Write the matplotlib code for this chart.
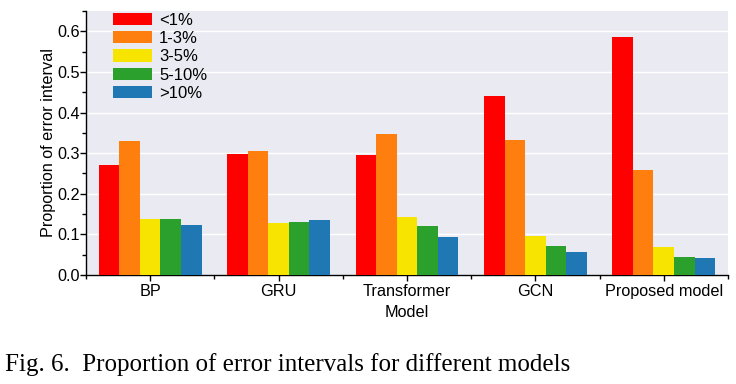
import matplotlib
matplotlib.use("Agg")
import matplotlib.pyplot as plt
import numpy as np
from matplotlib.ticker import MultipleLocator

models = ["BP", "GRU", "Transformer", "GCN", "Proposed model"]
intervals = ["<1%", "1-3%", "3-5%", "5-10%", ">10%"]
lt1 = [0.270, 0.298, 0.295, 0.440, 0.585]
r1_3 = [0.330, 0.306, 0.347, 0.332, 0.258]
r3_5 = [0.139, 0.129, 0.143, 0.096, 0.070]
r5_10 = [0.138, 0.130, 0.120, 0.071, 0.045]
gt10 = [0.123, 0.135, 0.093, 0.057, 0.043]
series = [lt1, r1_3, r3_5, r5_10, gt10]
colors = ["#FF0000", "#FF7F0E", "#F7E400", "#2CA02C", "#1F77B4"]

plt.rcParams['font.family'] = ['Liberation Sans', 'DejaVu Sans']

fig = plt.figure(figsize=(7.36, 3.84), dpi=100)
ax = fig.add_axes([0.1168, 0.2839, 0.989 - 0.1168, 0.9714 - 0.2839])
ax.set_facecolor("#EAEAF2")

x = np.arange(len(models))
w = 0.16
for i, (vals, c, lab) in enumerate(zip(series, colors, intervals)):
    ax.bar(x + (i - 2) * w, vals, width=w, color=c, label=lab, zorder=3)

ax.set_xlim(-0.5, 4.5)
ax.set_ylim(0, 0.65)
ax.yaxis.set_major_locator(MultipleLocator(0.1))
ax.yaxis.set_minor_locator(MultipleLocator(0.05))
ax.set_xticks(x)
ax.set_xticklabels(models)
ax.set_xticks(np.arange(-0.5, 4.6, 1.0), minor=True)
ax.grid(axis='y', which='major', color='white', linewidth=1.0, zorder=0)
ax.set_axisbelow(True)
for s in ['top', 'right']:
    ax.spines[s].set_visible(False)
for s in ['left', 'bottom']:
    ax.spines[s].set_color('black')
    ax.spines[s].set_linewidth(1.0)
ax.tick_params(axis='both', which='major', direction='out', length=4.5, width=1, labelsize=11.7)
ax.tick_params(axis='y', which='major', pad=0)
ax.tick_params(axis='x', which='major', pad=2)
ax.tick_params(axis='both', which='minor', direction='out', length=3, width=1)
ax.set_ylabel("Proportion of error interval", fontsize=11.7, labelpad=1)
ax.set_xlabel("Model", fontsize=11.7, labelpad=4)

leg = ax.legend(loc='upper left', bbox_to_anchor=(0.04, 1.0), frameon=False, fontsize=12,
                handlelength=2.35, handleheight=0.75, labelspacing=0.2, handletextpad=0.4,
                borderaxespad=0, borderpad=0.1)

fig.text(0.007, 0.035, "Fig. 6.  Proportion of error intervals for different models",
         fontsize=18, family=['Liberation Serif', 'DejaVu Serif'], ha='left', va='baseline')

fig.savefig("out.png", dpi=100, facecolor='white')
